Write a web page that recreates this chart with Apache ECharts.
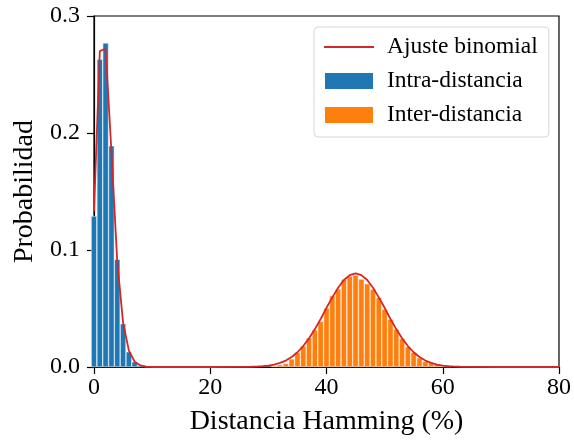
<!DOCTYPE html>
<html>
<head>
<meta charset="utf-8">
<script src="https://cdn.jsdelivr.net/npm/echarts@6/dist/echarts.min.js"></script>
<style>
  html, body { margin: 0; padding: 0; background: #fff; }
  #chart { width: 574px; height: 443px; }
</style>
</head>
<body>
<div id="chart"></div>
<script>
/* ---------- datos ---------- */
// histograma intra-distancia (centro del bin en %, probabilidad)
const intraX = [0, 1, 2, 3, 4, 5, 6, 7, 8, 9];
const intraY = [0.129, 0.263, 0.277, 0.189, 0.092, 0.037, 0.013, 0.0045, 0.0015, 0.0005];

// histograma inter-distancia
const interX = [31, 32, 33, 34, 35, 36, 37, 38, 39, 40, 41, 42, 43, 44, 45, 46,
  47, 48, 49, 50, 51, 52, 53, 54, 55, 56, 57, 58, 59, 60, 61];
const interY = [0.001, 0.002, 0.0031, 0.007, 0.0126, 0.018, 0.025, 0.0318, 0.039,
  0.0505, 0.061, 0.0668, 0.075, 0.0778, 0.0786, 0.0752, 0.0712, 0.0666, 0.0595,
  0.0494, 0.0408, 0.0323, 0.0243, 0.0175, 0.0127, 0.0079, 0.0048, 0.0037,
  0.0027, 0.001, 0.0005];

// ajuste binomial (curva roja)
const fitX = [0, 1, 2, 3, 4, 5, 6, 7, 8, 9, 10, 20, 27, 28, 29, 30, 31, 32, 33, 34,
  35, 36, 37, 38, 39, 40, 41, 42, 43, 44, 45, 46, 47, 48, 49, 50, 51, 52, 53,
  54, 55, 56, 57, 58, 59, 60, 61, 62, 63, 70, 80];
const fitY = [0.133, 0.270, 0.272, 0.184, 0.090, 0.038, 0.014, 0.0045, 0.0013,
  0.0003, 0, 0, 0.0002, 0.0004, 0.0007, 0.0012, 0.0021, 0.0035, 0.0055, 0.0085,
  0.0126, 0.0179, 0.0245, 0.0324, 0.041, 0.0506, 0.0595, 0.0677, 0.0744, 0.0785,
  0.080, 0.0785, 0.0744, 0.0677, 0.0595, 0.0506, 0.041, 0.0324, 0.0245, 0.0179,
  0.0126, 0.0085, 0.0055, 0.0035, 0.0021, 0.0012, 0.0007, 0.0004, 0.0002, 0, 0];

const xTicks = { min: 0, max: 80, interval: 20 };
const yTicks = { min: 0, max: 0.3, interval: 0.1 };

const pair = (xs, ys) => xs.map((x, i) => [x, ys[i]]);

/* ---------- gráfico ---------- */
const FONT = '"Liberation Serif", "DejaVu Serif", serif';
const chart = echarts.init(document.getElementById('chart'), null, { renderer: 'canvas' });

chart.setOption({
  animation: false,
  grid: {
    left: 94, right: 13, top: 16, bottom: 76,
    show: true, borderColor: '#000', borderWidth: 1.2, backgroundColor: 'transparent',
  },
  legend: {
    data: [
      { name: 'Ajuste binomial', itemStyle: { opacity: 0 } },
      { name: 'Intra-distancia', icon: 'rect' },
      { name: 'Inter-distancia', icon: 'rect' },
    ],
    orient: 'vertical',
    left: 314,
    top: 27,
    itemWidth: 50,
    itemHeight: 18,
    itemGap: 10,
    padding: [8, 11, 10, 9],
    backgroundColor: 'rgba(255,255,255,0.8)',
    borderColor: '#d6d6d6',
    borderWidth: 1,
    borderRadius: 4,
    textStyle: { fontFamily: FONT, fontSize: 23.5, color: '#000', lineHeight: 24, padding: [0, 0, 0, 8] },
  },
  xAxis: {
    type: 'value',
    min: xTicks.min,
    max: xTicks.max,
    interval: xTicks.interval,
    name: 'Distancia Hamming (%)',
    nameLocation: 'middle',
    nameGap: 41,
    nameTextStyle: { fontFamily: FONT, fontSize: 28, color: '#000' },
    axisLine: { show: true, lineStyle: { color: '#000', width: 1.2 } },
    axisTick: { show: true, length: 7, lineStyle: { color: '#000', width: 1.2 } },
    axisLabel: { fontFamily: FONT, fontSize: 24, color: '#000', margin: 9 },
    splitLine: { show: false },
  },
  yAxis: {
    type: 'value',
    min: yTicks.min,
    max: yTicks.max,
    interval: yTicks.interval,
    name: 'Probabilidad',
    nameLocation: 'middle',
    nameGap: 54,
    nameTextStyle: { fontFamily: FONT, fontSize: 28, color: '#000' },
    axisLine: { show: true, lineStyle: { color: '#000', width: 1.2 } },
    axisTick: { show: true, length: 7, lineStyle: { color: '#000', width: 1.2 } },
    axisLabel: {
      fontFamily: FONT, fontSize: 24, color: '#000', margin: 14,
      formatter: (v) => v.toFixed(1),
    },
    splitLine: { show: false },
  },
  series: [
    {
      name: 'Intra-distancia',
      type: 'bar',
      data: pair(intraX, intraY),
      barWidth: 5.84,
      barGap: '-100%',
      clip: true,
      itemStyle: { color: '#1f77b4', borderColor: '#fff', borderWidth: 0.5 },
      z: 2,
    },
    {
      name: 'Inter-distancia',
      type: 'bar',
      data: pair(interX, interY),
      barWidth: 5.84,
      barGap: '-100%',
      clip: true,
      itemStyle: { color: '#ff7f0e', borderColor: '#fff', borderWidth: 0.5 },
      z: 2,
    },
    {
      name: 'Ajuste binomial',
      type: 'line',
      data: pair(fitX, fitY),
      symbol: 'none',
      clip: true,
      lineStyle: { color: '#d62728', width: 1.8 },
      itemStyle: { color: '#d62728' },
      z: 4,
    },
  ],
});
</script>
</body>
</html>
